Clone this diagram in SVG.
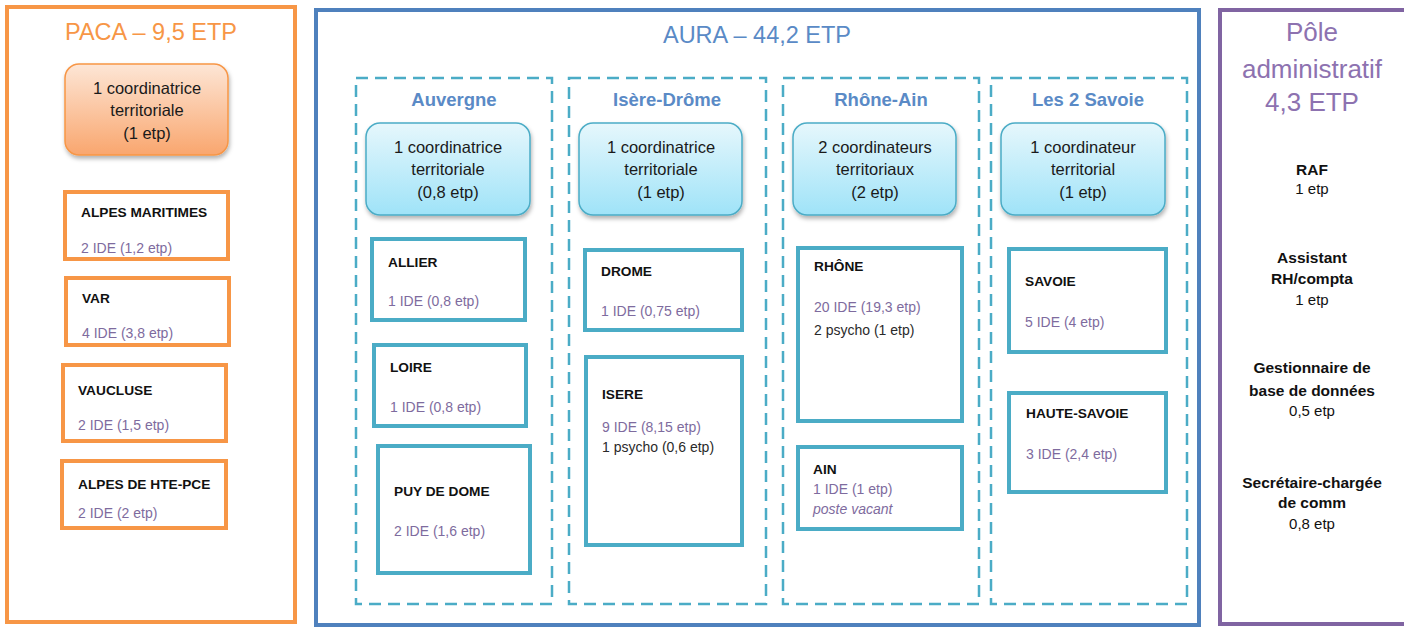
<svg xmlns="http://www.w3.org/2000/svg" width="1404" height="630" viewBox="0 0 1404 630">
<defs>
<linearGradient id="gOrange" x1="0" y1="0" x2="0" y2="1">
<stop offset="0" stop-color="#FDE6D6"/>
<stop offset="1" stop-color="#F9A66E"/>
</linearGradient>
<linearGradient id="gBlue" x1="0" y1="0" x2="0" y2="1">
<stop offset="0" stop-color="#E6F7FC"/>
<stop offset="1" stop-color="#9FE3F8"/>
</linearGradient>
<filter id="shadow" x="-10%" y="-10%" width="130%" height="140%">
<feDropShadow dx="1" dy="3" stdDeviation="2" flood-color="#000" flood-opacity="0.3"/>
</filter>
</defs>
<style>
text{font-family:"Liberation Sans",Arial,sans-serif}
.big{font-size:23.5px}
.col{font-size:18.5px;font-weight:bold;fill:#5A8AC6;text-anchor:middle}
.coord{font-size:16.5px;fill:#1a1a1a;text-anchor:middle}
.dt{font-size:13.7px;font-weight:bold;fill:#111}
.ide{font-size:14px;fill:#7E6B9E}
.ps{font-size:14px;fill:#2a2a2a}
.pt{font-size:26px;fill:#8D72B0;text-anchor:middle}
.pb{font-size:15.5px;font-weight:bold;fill:#111;text-anchor:middle}
.pn{font-size:15px;fill:#111;text-anchor:middle}
.obox{fill:#fff;stroke:#F79646;stroke-width:4}
.cbox{fill:#fff;stroke:#4BACC6;stroke-width:4}
.dash{fill:none;stroke:#4BACC6;stroke-width:2.5;stroke-dasharray:12 7}
</style>
<rect width="1404" height="630" fill="#fff"/>

<g id="paca">
<rect x="7" y="7" width="288" height="615" fill="#fff" stroke="#F79646" stroke-width="4"/>
<text x="151" y="40" class="big" fill="#F79646" text-anchor="middle">PACA – 9,5 ETP</text>
</g>
<g id="paca-coord">
<rect x="65" y="64" width="163" height="91" rx="14" fill="url(#gOrange)" stroke="#F79646" stroke-width="1.5" filter="url(#shadow)"/>
<text x="147" y="94" class="coord">1 coordinatrice</text>
<text x="147" y="116" class="coord">territoriale</text>
<text x="147" y="139" class="coord">(1 etp)</text>
</g>
<g id="alpes-maritimes">
<rect x="65" y="192" width="163" height="67" class="obox"/>
<text x="81" y="217" class="dt">ALPES MARITIMES</text>
<text x="81" y="253" class="ide">2 IDE (1,2 etp)</text>
</g>
<g id="var">
<rect x="66" y="278" width="163" height="67" class="obox"/>
<text x="82" y="303" class="dt">VAR</text>
<text x="82" y="338" class="ide">4 IDE (3,8 etp)</text>
</g>
<g id="vaucluse">
<rect x="63" y="365" width="163" height="76" class="obox"/>
<text x="78" y="395" class="dt">VAUCLUSE</text>
<text x="78" y="430" class="ide">2 IDE (1,5 etp)</text>
</g>
<g id="alpes-hte-pce">
<rect x="62" y="461" width="164" height="67" class="obox"/>
<text x="78" y="489" class="dt">ALPES DE HTE-PCE</text>
<text x="78" y="518" class="ide">2 IDE (2 etp)</text>
</g>

<g id="aura">
<rect x="316" y="10" width="883" height="615" fill="#fff" stroke="#4F81BD" stroke-width="4"/>
<text x="757" y="43" class="big" fill="#5A8AC6" text-anchor="middle">AURA – 44,2 ETP</text>
</g>

<g id="auvergne">
<rect x="356" y="78" width="196" height="526" class="dash"/>
<text x="454" y="106" class="col">Auvergne</text>
<rect x="366" y="123" width="164" height="92" rx="14" fill="url(#gBlue)" stroke="#4BACC6" stroke-width="1.5" filter="url(#shadow)"/>
<text x="448" y="153" class="coord">1 coordinatrice</text>
<text x="448" y="175" class="coord">territoriale</text>
<text x="448" y="198" class="coord">(0,8 etp)</text>
</g>
<g id="allier">
<rect x="372" y="239" width="153" height="81" class="cbox"/>
<text x="388" y="267" class="dt">ALLIER</text>
<text x="388" y="306" class="ide">1 IDE (0,8 etp)</text>
</g>
<g id="loire">
<rect x="374" y="345" width="152" height="81" class="cbox"/>
<text x="390" y="372" class="dt">LOIRE</text>
<text x="390" y="412" class="ide">1 IDE (0,8 etp)</text>
</g>
<g id="puy-de-dome">
<rect x="378" y="446" width="152" height="127" class="cbox"/>
<text x="394" y="496" class="dt">PUY DE DOME</text>
<text x="394" y="536" class="ide">2 IDE (1,6 etp)</text>
</g>

<g id="isere-drome">
<rect x="569" y="78" width="197" height="526" class="dash"/>
<text x="667" y="106" class="col">Isère-Drôme</text>
<rect x="579" y="123" width="163" height="92" rx="14" fill="url(#gBlue)" stroke="#4BACC6" stroke-width="1.5" filter="url(#shadow)"/>
<text x="661" y="153" class="coord">1 coordinatrice</text>
<text x="661" y="175" class="coord">territoriale</text>
<text x="661" y="198" class="coord">(1 etp)</text>
</g>
<g id="drome">
<rect x="585" y="250" width="157" height="80" class="cbox"/>
<text x="601" y="276" class="dt">DROME</text>
<text x="601" y="316" class="ide">1 IDE (0,75 etp)</text>
</g>
<g id="isere">
<rect x="586" y="357" width="156" height="188" class="cbox"/>
<text x="602" y="399" class="dt">ISERE</text>
<text x="602" y="432" class="ide">9 IDE (8,15 etp)</text>
<text x="602" y="452" class="ps">1 psycho (0,6 etp)</text>
</g>

<g id="rhone-ain">
<rect x="783" y="78" width="196" height="526" class="dash"/>
<text x="881" y="106" class="col">Rhône-Ain</text>
<rect x="793" y="123" width="163" height="92" rx="14" fill="url(#gBlue)" stroke="#4BACC6" stroke-width="1.5" filter="url(#shadow)"/>
<text x="875" y="153" class="coord">2 coordinateurs</text>
<text x="875" y="175" class="coord">territoriaux</text>
<text x="875" y="198" class="coord">(2 etp)</text>
</g>
<g id="rhone">
<rect x="798" y="248" width="164" height="173" class="cbox"/>
<text x="814" y="271" class="dt">RHÔNE</text>
<text x="814" y="312" class="ide">20 IDE (19,3 etp)</text>
<text x="814" y="335" class="ps">2 psycho (1 etp)</text>
</g>
<g id="ain">
<rect x="798" y="447" width="164" height="82" class="cbox"/>
<text x="813" y="474" class="dt">AIN</text>
<text x="813" y="494" class="ide">1 IDE (1 etp)</text>
<text x="813" y="514" class="ide" font-style="italic">poste vacant</text>
</g>

<g id="les-2-savoie">
<rect x="991" y="78" width="196" height="526" class="dash"/>
<text x="1088" y="106" class="col">Les 2 Savoie</text>
<rect x="1001" y="123" width="164" height="92" rx="14" fill="url(#gBlue)" stroke="#4BACC6" stroke-width="1.5" filter="url(#shadow)"/>
<text x="1083" y="153" class="coord">1 coordinateur</text>
<text x="1083" y="175" class="coord">territorial</text>
<text x="1083" y="198" class="coord">(1 etp)</text>
</g>
<g id="savoie">
<rect x="1009" y="249" width="157" height="103" class="cbox"/>
<text x="1025" y="286" class="dt">SAVOIE</text>
<text x="1025" y="327" class="ide">5 IDE (4 etp)</text>
</g>
<g id="haute-savoie">
<rect x="1009" y="393" width="157" height="99" class="cbox"/>
<text x="1026" y="418" class="dt">HAUTE-SAVOIE</text>
<text x="1026" y="459" class="ide">3 IDE (2,4 etp)</text>
</g>

<g id="pole-administratif">
<rect x="1220" y="10" width="200" height="614" fill="#fff" stroke="#8064A2" stroke-width="4"/>
<text x="1312" y="41" class="pt">Pôle</text>
<text x="1312" y="78" class="pt">administratif</text>
<text x="1312" y="111" class="pt">4,3 ETP</text>
<text x="1312" y="175" class="pb">RAF</text>
<text x="1312" y="194" class="pn">1 etp</text>
<text x="1312" y="263" class="pb">Assistant</text>
<text x="1312" y="284" class="pb">RH/compta</text>
<text x="1312" y="305" class="pn">1 etp</text>
<text x="1312" y="373" class="pb">Gestionnaire de</text>
<text x="1312" y="396" class="pb">base de données</text>
<text x="1312" y="416" class="pn">0,5 etp</text>
<text x="1312" y="488" class="pb">Secrétaire-chargée</text>
<text x="1312" y="508" class="pb">de comm</text>
<text x="1312" y="529" class="pn">0,8 etp</text>
</g>
<g id="connectors"/>
</svg>
